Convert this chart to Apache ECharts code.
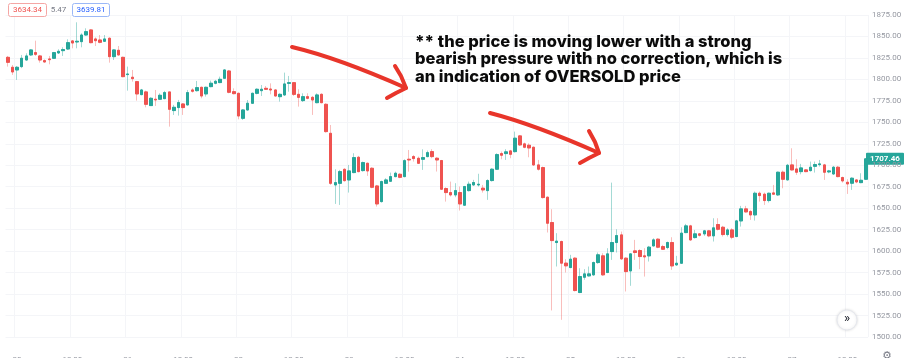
<!DOCTYPE html>
<html><head><meta charset="utf-8">
<script src="https://cdn.jsdelivr.net/npm/echarts@6/dist/echarts.min.js"></script>
<style>html,body{margin:0;padding:0;background:#fff}#c{width:910px;height:358px}</style>
</head><body><div id="c"></div>
<script>
// ---- data (1h candles, first candle = 19th 22:00) ----
const dayLabels = ['19','20','21','22','23','24','25','26','27'];
const open = [
1825.7,1814.1,1811.0,1814.9,1822.6,1828.5,1831.2,1827.3,1821.9,1823.8,
1824.6,1830.8,1833.5,1835.4,1844.8,1843.6,1844.0,1851.7,1857.6,1847.1,
1845.9,1844.4,1847.9,1826.5,1833.9,1825.7,1805.6,1802.5,1797.4,1782.3,
1785.4,1769.5,1776.9,1776.9,1777.6,1785.4,1763.7,1767.2,1771.4,1770.3,
1787.7,1786.9,1790.8,1783.1,1791.6,1795.5,1796.3,1801.3,1809.8,1785.7,
1783.8,1754.7,1764.4,1772.2,1783.8,1786.9,1789.6,1788.8,1787.7,1779.9,
1781.9,1795.4,1796.2,1782.6,1775.3,1779.9,1779.1,1772.9,1782.6,1771.0,
1737.2,1677.1,1679.0,1695.3,1682.9,1691.5,1709.3,1693.8,1702.3,1696.5,
1675.9,1657.7,1679.0,1681.4,1686.8,1689.5,1686.8,1707.0,1710.1,1708.1,
1707.0,1710.1,1715.9,1708.2,1705.5,1672.9,1668.2,1665.5,1668.2,1653.5,
1670.5,1677.1,1677.1,1673.3,1670.5,1682.2,1695.4,1713.6,1713.6,1716.7,
1715.9,1734.2,1724.9,1723.3,1721.0,1700.4,1697.3,1662.8,1633.3,1610.0,
1611.2,1586.0,1580.9,1591.8,1551.8,1569.6,1571.2,1572.4,1586.7,1594.5,
1575.1,1599.5,1610.0,1618.9,1591.8,1577.0,1600.3,1600.7,1594.5,1594.5,
1606.1,1613.9,1605.3,1604.2,1610.0,1584.0,1585.9,1621.6,1629.4,1615.8,
1620.1,1620.1,1623.6,1617.8,1631.0,1627.8,1619.3,1624.7,1617.0,1635.2,
1649.2,1646.1,1642.2,1667.4,1666.3,1658.9,1667.8,1665.5,1691.9,1683.0,
1700.4,1695.7,1692.6,1694.6,1693.8,1698.8,1700.8,1700.4,1692.3,1689.9,
1697.7,1685.7,1680.2,1679.1,1682.9,1679.8,1683.7];
const close = [
1819.9,1808.7,1814.1,1824.6,1827.3,1834.3,1829.2,1822.6,1820.3,1823.0,
1831.2,1832.7,1834.7,1842.8,1842.4,1844.4,1851.7,1855.6,1842.8,1845.1,
1843.2,1847.1,1826.5,1834.3,1828.5,1803.2,1806.3,1800.9,1783.1,1787.7,
1771.0,1778.0,1776.1,1781.5,1784.6,1765.2,1767.5,1773.0,1767.2,1784.6,
1786.2,1790.4,1780.7,1790.8,1795.5,1797.8,1800.1,1811.0,1785.0,1783.4,
1757.4,1764.4,1772.2,1783.8,1788.5,1788.5,1788.5,1787.7,1780.7,1782.6,
1794.7,1796.2,1782.6,1779.1,1779.9,1778.0,1776.0,1781.9,1772.9,1739.2,
1679.0,1679.8,1692.6,1682.1,1693.4,1708.9,1692.6,1703.1,1693.4,1674.4,
1655.0,1681.0,1682.9,1686.8,1690.7,1686.0,1705.4,1706.2,1707.8,1702.3,
1708.9,1714.7,1710.1,1706.2,1672.1,1668.2,1665.5,1670.5,1655.0,1675.2,
1677.9,1679.9,1677.9,1671.3,1682.2,1695.4,1712.4,1711.7,1715.6,1712.8,
1731.5,1723.7,1721.0,1720.2,1700.4,1695.4,1662.4,1632.5,1612.3,1611.6,
1586.0,1582.9,1590.6,1554.1,1570.4,1573.5,1573.5,1586.7,1595.7,1572.4,
1596.8,1610.0,1618.1,1591.0,1576.2,1596.8,1598.4,1593.7,1593.3,1604.6,
1613.1,1604.6,1602.2,1610.0,1582.8,1585.9,1620.9,1629.4,1613.1,1620.1,
1618.5,1623.6,1617.8,1627.1,1625.5,1619.3,1624.7,1616.2,1635.2,1649.2,
1645.7,1642.2,1667.4,1664.7,1658.9,1667.4,1666.3,1691.9,1683.7,1700.0,
1694.6,1691.9,1696.9,1692.6,1697.7,1700.8,1701.6,1691.9,1693.4,1697.7,
1686.8,1681.8,1678.3,1684.9,1680.6,1682.5,1707.46];
const low = [
1814.9,1805.2,1799.4,1813.1,1821.9,1827.3,1827.3,1819.5,1819.5,1817.6,
1823.8,1829.6,1827.3,1834.3,1836.2,1836.2,1837.4,1851.0,1842.0,1838.9,
1842.0,1843.6,1819.5,1822.6,1827.7,1802.5,1786.9,1797.4,1775.3,1781.5,
1767.5,1769.1,1769.1,1776.1,1776.9,1745.0,1758.6,1757.8,1758.6,1769.5,
1784.6,1785.8,1778.0,1780.0,1790.8,1794.3,1795.5,1801.3,1783.8,1782.6,
1753.5,1752.8,1763.6,1771.4,1782.6,1780.7,1787.7,1782.6,1779.9,1774.1,
1780.7,1785.7,1780.7,1768.3,1773.7,1776.8,1758.6,1772.2,1772.2,1738.0,
1677.1,1655.0,1653.8,1681.0,1668.2,1690.7,1691.8,1692.6,1687.6,1673.2,
1651.9,1656.5,1678.3,1680.6,1686.0,1684.9,1686.0,1692.6,1704.3,1701.5,
1694.6,1709.3,1708.2,1692.7,1671.3,1657.7,1663.6,1662.8,1647.3,1652.7,
1669.4,1676.0,1675.2,1668.2,1659.7,1681.0,1694.6,1707.0,1706.2,1708.2,
1714.8,1722.5,1719.8,1709.3,1699.3,1693.8,1661.2,1621.7,1530.9,1582.1,
1520.0,1575.1,1580.1,1553.0,1551.0,1566.6,1570.4,1571.2,1585.2,1571.2,
1574.3,1589.8,1598.4,1589.8,1553.0,1559.6,1589.8,1579.0,1570.4,1587.9,
1605.3,1603.4,1601.5,1602.2,1578.2,1582.8,1585.2,1620.9,1611.9,1614.7,
1617.0,1617.8,1616.2,1611.2,1624.0,1617.0,1617.0,1613.9,1616.2,1628.6,
1644.9,1636.4,1635.6,1657.7,1653.8,1656.6,1665.5,1664.3,1673.2,1682.2,
1693.8,1688.8,1689.5,1691.9,1692.6,1691.5,1698.5,1682.9,1690.7,1688.8,
1686.0,1679.8,1666.6,1671.3,1679.1,1679.1,1682.9];
const high = [
1827.3,1816.8,1815.6,1828.5,1830.4,1835.1,1845.1,1828.5,1823.4,1827.3,
1832.0,1835.1,1837.4,1846.7,1845.9,1866.5,1853.7,1859.5,1858.3,1849.0,
1851.7,1851.7,1849.0,1835.1,1838.9,1826.5,1814.9,1811.0,1798.2,1788.9,
1786.9,1779.2,1787.7,1783.8,1786.6,1785.4,1770.3,1776.1,1772.2,1787.7,
1789.7,1798.2,1791.6,1791.6,1798.6,1799.4,1803.2,1811.7,1811.0,1789.6,
1784.6,1765.2,1776.0,1784.6,1789.6,1793.5,1792.3,1795.4,1788.5,1783.8,
1807.9,1804.0,1797.0,1788.5,1783.8,1783.8,1780.7,1783.8,1783.8,1772.2,
1746.9,1695.3,1694.6,1696.5,1700.4,1714.0,1710.9,1704.3,1703.1,1697.7,
1677.1,1682.1,1684.9,1691.5,1692.6,1690.7,1707.0,1717.8,1712.0,1710.1,
1718.6,1717.1,1718.7,1709.3,1706.2,1674.4,1681.0,1679.1,1675.2,1676.0,
1681.0,1683.0,1690.1,1677.1,1683.7,1696.5,1714.0,1716.0,1718.7,1717.9,
1739.2,1735.3,1726.4,1725.6,1721.8,1706.2,1698.5,1663.6,1648.8,1620.9,
1612.3,1590.6,1595.7,1592.9,1580.1,1579.0,1582.1,1587.9,1598.4,1597.6,
1603.4,1679.8,1625.5,1622.8,1592.9,1597.6,1613.1,1602.2,1603.4,1606.1,
1615.0,1615.0,1607.3,1611.2,1616.2,1594.5,1627.8,1631.7,1630.6,1624.7,
1620.9,1624.7,1624.7,1638.3,1638.3,1629.4,1626.7,1626.7,1636.4,1652.7,
1652.7,1648.0,1669.4,1669.4,1668.2,1668.2,1677.1,1692.6,1693.8,1701.6,
1719.8,1707.0,1701.6,1695.4,1704.3,1704.3,1706.2,1701.6,1694.6,1699.2,
1699.2,1686.8,1683.7,1686.0,1683.7,1690.7,1708.2];
const yMin = 1500, yMax = 1875, yStep = 25;
const lastPrice = 1707.46;
const quoteBid = '3634.34', quoteSpread = '5.47', quoteAsk = '3639.81';
const noteLines = ['** the price is moving lower with a strong',
                   'bearish pressure with no correction, which is',
                   'an indication of OVERSOLD price'];

// ---- build ----
const categories = [];
for (let i = 0; i < open.length; i++) {
  const h = i - 2;                       // hours after the 20th 00:00
  const d = Math.floor(h / 24) + 1;      // index in dayLabels
  const hh = ((h % 24) + 24) % 24;
  categories.push(dayLabels[d] + ' ' + String(hh).padStart(2, '0') + ':00');
}
const wickData = open.map((o, i) => [o, close[i], low[i], high[i]]);
const bodyData = open.map((o, i) => [o, close[i], Math.min(o, close[i]), Math.max(o, close[i])]);
const isTick = (idx) => idx >= 2 && (idx - 2) % 12 === 0;

const UP = '#26a69a', DOWN = '#ef5350';
const UPL = 'rgba(38,166,154,0.42)', DOWNL = 'rgba(239,83,80,0.38)';
const chart = echarts.init(document.getElementById('c'), null, {renderer: 'canvas'});
const font = 'Roboto, "Noto Sans", sans-serif';
chart.setOption({
  animation: false,
  backgroundColor: '#ffffff',
  grid: {left: 5.5, right: 41.9, top: 15, bottom: 21, containLabel: false, outerBoundsMode: 'none'},
  xAxis: {
    type: 'category', data: categories, boundaryGap: true,
    axisLine: {show: false}, axisTick: {show: false},
    axisLabel: {
      interval: (idx) => isTick(idx), margin: 19, color: '#9598a1', fontSize: 8, fontFamily: font,
      formatter: (v) => v.endsWith(' 00:00') ? v.split(' ')[0] : v.split(' ')[1]
    },
    splitLine: {show: true, interval: (idx) => isTick(idx), lineStyle: {color: '#f4f5f8', width: 1}}
  },
  yAxis: {
    type: 'value', position: 'right', min: yMin, max: yMax, interval: yStep, scale: true,
    axisLine: {show: false}, axisTick: {show: false},
    axisLabel: {margin: 4, color: '#9598a1', fontSize: 8, fontFamily: font, formatter: (v) => v.toFixed(2)},
    splitLine: {show: true, lineStyle: {color: '#f4f5f8', width: 1}}
  },
  series: [
    {type: 'candlestick', data: wickData, barWidth: 3,
     itemStyle: {color: UPL, color0: DOWNL, borderColor: UPL, borderColor0: DOWNL, borderWidth: 1}},
    {type: 'candlestick', data: bodyData, barWidth: 3,
     itemStyle: {color: UP, color0: DOWN, borderColor: UP, borderColor0: DOWN, borderWidth: 1}}
  ]
});

const py = chart.convertToPixel({yAxisIndex: 0}, lastPrice);
const red = '#e8352a';
const arrowStyle = {stroke: red, lineWidth: 4, lineCap: 'round', lineJoin: 'round', fill: null};
chart.setOption({
  graphic: [
    // quote boxes
    {type: 'rect', shape: {x: 8.5, y: 3.5, width: 38, height: 13, r: 2}, style: {fill: '#fff', stroke: '#f5a6a4', lineWidth: 1}},
    {type: 'text', x: 27.5, y: 10, style: {text: quoteBid, fill: DOWN, font: '8px ' + font, textAlign: 'center', textVerticalAlign: 'middle'}},
    {type: 'text', x: 58.5, y: 10, style: {text: quoteSpread, fill: '#787b86', font: '8px ' + font, textAlign: 'center', textVerticalAlign: 'middle'}},
    {type: 'rect', shape: {x: 72.5, y: 3.5, width: 37, height: 13, r: 2}, style: {fill: '#fff', stroke: '#9bb8f7', lineWidth: 1}},
    {type: 'text', x: 91, y: 10, style: {text: quoteAsk, fill: '#2962ff', font: '8px ' + font, textAlign: 'center', textVerticalAlign: 'middle'}},
    // last price label
    {type: 'rect', shape: {x: 866, y: py - 6, width: 38, height: 12, r: 1}, style: {fill: UP}},
    {type: 'text', x: 885, y: py, style: {text: lastPrice.toFixed(2), fill: '#fff', font: 'bold 8px ' + font, textAlign: 'center', textVerticalAlign: 'middle'}},
    // scroll button and gear
    {type: 'circle', shape: {cx: 847, cy: 320, r: 10}, style: {fill: '#fff', stroke: '#e6e8ee', lineWidth: 1, shadowBlur: 3, shadowColor: 'rgba(0,0,0,0.12)'}},
    {type: 'text', x: 847, y: 319, style: {text: '»', fill: '#131722', font: '13px ' + font, textAlign: 'center', textVerticalAlign: 'middle'}},
    {type: 'text', x: 887, y: 356, style: {text: '⚙', fill: '#787b86', font: '11px "DejaVu Sans"', textAlign: 'center', textVerticalAlign: 'middle'}},
    // annotation text
    {type: 'text', x: 415, y: 33, style: {text: noteLines.join('\n'), fill: '#0b0b0b', font: '800 16.5px Inter, "Open Sans", sans-serif', lineHeight: 17.5, textVerticalAlign: 'top'}},
    // arrow 1
    {type: 'bezierCurve', shape: {x1: 292, y1: 47, x2: 406, y2: 88, cpx1: 330, cpy1: 56, cpx2: 370, cpy2: 72}, style: arrowStyle},
    {type: 'polyline', shape: {points: [[395, 66], [401, 76], [406, 88], [396, 93], [387, 98]]}, style: arrowStyle},
    // arrow 2
    {type: 'bezierCurve', shape: {x1: 490, y1: 113, x2: 599, y2: 153, cpx1: 525, cpy1: 122, cpx2: 565, cpy2: 138}, style: arrowStyle},
    {type: 'polyline', shape: {points: [[589, 131], [595, 142], [599, 153], [589, 158], [580, 163]]}, style: arrowStyle}
  ]
});
</script></body></html>
